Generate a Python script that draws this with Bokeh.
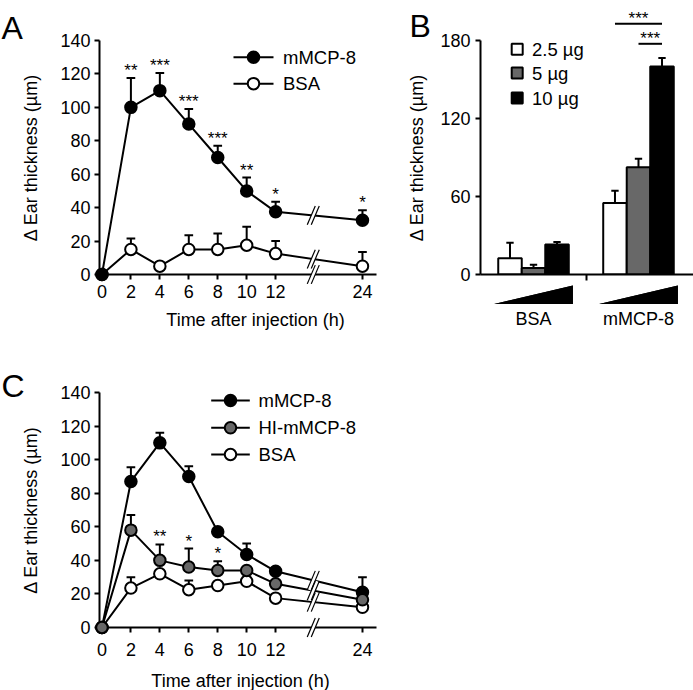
from bokeh.plotting import figure
from bokeh.layouts import column, row
from bokeh.models import FixedTicker
from bokeh.embed import file_html
from bokeh.resources import INLINE
from bokeh.core.properties import value

FONT = "Liberation Sans"
GRAY = "#686868"

# ---------------- data ----------------
times = [0, 2, 4, 6, 8, 10, 12, 24]
time_tick_labels = ["0", "2", "4", "6", "8", "10", "12", "24"]

# Panel A
a_mcp8 = [0, 100, 110, 90, 70, 50, 37.5, 32.5]
a_mcp8_err = [0, 117.5, 120.5, 99, 77, 58, 43.5, 38.5]
a_bsa = [0, 15, 5, 15, 15, 17.5, 12.5, 5]
a_bsa_err = [0, 21.5, 5, 23.5, 24.5, 28.5, 20, 13.5]
a_stars = ["", "**", "***", "***", "***", "**", "*", "*"]

# Panel B
groups = ["BSA", "mMCP-8"]
doses = ["2.5 µg", "5 µg", "10 µg"]
dose_colors = ["white", GRAY, "black"]
b_bsa = [12.5, 5, 23]
b_bsa_err = [24.5, 7.5, 25]
b_mcp8 = [55, 82.5, 160]
b_mcp8_err = [64.5, 89, 166.5]
b_sig_pairs = [(0, 2), (1, 2)]          # dose indices compared within mMCP-8
b_sig_labels = ["***", "***"]

# Panel C
c_mcp8 = [0, 87, 110, 90, 57, 43.5, 33.5, 21]
c_mcp8_err = [0, 95.5, 116, 96, 57, 50, 33.5, 30]
c_hi = [0, 58, 40, 36, 34, 34, 26, 16.5]
c_hi_err = [0, 67, 49.5, 47, 39.5, 34, 26, 16.5]
c_bsa = [0, 23.5, 32, 22.5, 25, 27.5, 17.5, 12]
c_bsa_err = [0, 30, 32, 28, 25, 27.5, 17.5, 12]
c_hi_stars = ["", "", "**", "*", "*", "", "", ""]


def tpos(t):
    # broken time axis: 0-12 h linear, 12-24 h compressed by half
    return t if t <= 12 else 12 + (t - 12) * 0.5


BREAK_X = 14.6
STAR_OFFSET = -7.5


class Frame:
    """maps page-pixel positions to data coordinates of a figure"""
    def __init__(self, p, ox, oy):
        self.left = ox + p.min_border_left
        self.bottom = oy + p.height - p.min_border_bottom
        fw = p.width - p.min_border_left - p.min_border_right
        fh = p.height - p.min_border_top - p.min_border_bottom
        self.x0, self.y0 = p.x_range.start, p.y_range.start
        self.sx = fw / (p.x_range.end - p.x_range.start)
        self.sy = fh / (p.y_range.end - p.y_range.start)

    def x(self, px):
        return self.x0 + (px - self.left) / self.sx

    def y(self, py):
        return self.y0 + (self.bottom - py) / self.sy


def style(p):
    p.grid.visible = False
    p.outline_line_color = None
    for ax in p.axis:
        ax.axis_line_width = 2
        ax.axis_line_color = "black"
        ax.major_tick_line_width = 2
        ax.major_tick_line_color = "black"
        ax.minor_tick_line_color = None
        ax.major_tick_in = 0
        ax.major_tick_out = 5
        ax.major_label_text_font = FONT
        ax.major_label_text_font_size = "18px"
        ax.major_label_text_color = "black"
        ax.axis_label_text_font = FONT
        ax.axis_label_text_font_size = "18px"
        ax.axis_label_text_font_style = "normal"
        ax.axis_label_text_color = "black"


def add_text(p, x, y, text, size="18px", align="left", baseline="middle", y_offset=0):
    r = p.text(x=x, y=y, text=text, text_font=value(FONT), text_font_size=size,
               text_align=align, text_baseline=baseline, text_color="black",
               y_offset=y_offset)
    r.level = "overlay"
    return r


def time_figure(height, top, bottom, label_standoff):
    p = figure(width=380, height=height, x_range=(-0.17, 18.97), y_range=(0, 140),
               min_border_left=99, min_border_right=4, min_border_top=top,
               min_border_bottom=bottom, output_backend="svg", toolbar_location=None)
    style(p)
    p.xaxis.ticker = FixedTicker(ticks=[tpos(t) for t in times])
    p.xaxis.major_label_overrides = {int(tpos(t)): lab for t, lab in zip(times, time_tick_labels)}
    p.xaxis.major_label_standoff = label_standoff
    p.yaxis.ticker = FixedTicker(ticks=list(range(0, 141, 20)))
    p.yaxis.major_label_standoff = 4
    p.yaxis.axis_label = "Δ Ear thickness (µm)"
    p.yaxis.axis_label_standoff = 16
    return p


def draw_series(p, ys, errs, fill, cap=0.3):
    xs = [tpos(t) for t in times]
    p.line(xs, ys, line_color="black", line_width=2)
    p.segment(xs, ys, xs, errs, line_color="black", line_width=2)
    p.segment([x - cap for x in xs], errs, [x + cap for x in xs], errs,
              line_color="black", line_width=2)
    r = p.scatter(xs, ys, size=11.5, marker="circle", fill_color=fill,
                  line_color="black", line_width=2)
    r.level = "overlay"


def break_y(ys):
    x12, x24 = tpos(12), tpos(24)
    return ys[6] + (ys[7] - ys[6]) * (BREAK_X - x12) / (x24 - x12)


def break_marks(p, fr, yvals, half_h=9.5, half_w=4, gap=2):
    dx, dy, g = half_w / fr.sx, half_h / fr.sy, gap / fr.sx
    xb = [BREAK_X] * len(yvals)
    for off, col, lw in [(0, "white", 3.6), (-g, "black", 1.2), (g, "black", 1.2)]:
        r = p.segment([x - dx + off for x in xb], [y - dy for y in yvals],
                      [x + dx + off for x in xb], [y + dy for y in yvals],
                      line_color=col, line_width=lw)
        r.level = "overlay"


def legend_rows(p, fr, x0, x1, xm, xt, ys, labels, fills):
    for y, lab, fill in zip(ys, labels, fills):
        r = p.line([fr.x(x0), fr.x(x1)], [fr.y(y), fr.y(y)], line_color="black", line_width=2)
        r.level = "overlay"
        r = p.scatter([fr.x(xm)], [fr.y(y)], size=11.5, fill_color=fill,
                      line_color="black", line_width=2)
        r.level = "overlay"
        add_text(p, [fr.x(xt)], [fr.y(y)], [lab], size="18.5px")


# ---------------- Panel A ----------------
pA = time_figure(height=335, top=38, bottom=60, label_standoff=5)
fa = Frame(pA, 0, 0)
draw_series(pA, a_bsa, a_bsa_err, "white")
draw_series(pA, a_mcp8, a_mcp8_err, "black")
break_marks(pA, fa, [0, break_y(a_bsa), break_y(a_mcp8)])
add_text(pA, [tpos(t) for t in times], a_mcp8_err, a_stars, size="17px",
         align="center", baseline="alphabetic", y_offset=STAR_OFFSET)
legend_rows(pA, fa, 233, 273, 253, 282.5, [55, 81.7], ["mMCP-8", "BSA"], ["black", "white"])
add_text(pA, [fa.x(255)], [fa.y(321)], ["Time after injection (h)"], align="center")
add_text(pA, [fa.x(1)], [fa.y(25)], ["A"], size="32px", baseline="alphabetic")

# ---------------- Panel B ----------------
BW = 0.224
pB = figure(width=313, height=335, x_range=(-0.505, 1.524), y_range=(0, 180),
            min_border_left=100, min_border_right=0, min_border_top=40, min_border_bottom=61,
            output_backend="svg", toolbar_location=None)
style(pB)
fb = Frame(pB, 380, 0)
pB.yaxis.ticker = FixedTicker(ticks=[0, 60, 120, 180])
pB.yaxis.major_label_standoff = 5
pB.yaxis.axis_label = "Δ Ear thickness (µm)"
pB.yaxis.axis_label_standoff = 10
pB.xaxis.ticker = FixedTicker(ticks=list(range(len(groups))), minor_ticks=[0.5])
pB.xaxis.major_label_overrides = {i: g for i, g in enumerate(groups)}
pB.xaxis.major_tick_out = 0
pB.xaxis.minor_tick_out = 6
pB.xaxis.minor_tick_in = 0
pB.xaxis.minor_tick_line_color = "black"
pB.xaxis.minor_tick_line_width = 2
pB.xaxis.major_label_standoff = 28

vals = [b_bsa, b_mcp8]
errs = [b_bsa_err, b_mcp8_err]
for i, dose in enumerate(doses):
    xs = [g + (i - 1) * BW for g in range(len(groups))]
    tops = [v[i] for v in vals]
    tops_err = [e[i] for e in errs]
    pB.segment(xs, tops, xs, tops_err, line_color="black", line_width=2)
    pB.segment([x - 0.035 for x in xs], tops_err, [x + 0.035 for x in xs], tops_err,
               line_color="black", line_width=2)
    pB.vbar(x=xs, top=tops, width=BW, bottom=0, fill_color=dose_colors[i],
            line_color="black", line_width=2)

# dose wedges under each group (drawn below the axis)
wx = 0.375
w_bot, w_top = fb.y(303.5), fb.y(285)
for g in range(len(groups)):
    r = pB.varea(x=[g - wx, g + wx], y1=[w_bot, w_bot], y2=[w_bot, w_top],
                 fill_color="black")
    r.level = "overlay"
r = pB.patches(xs=[[g - wx, g + wx, g + wx, g + wx] for g in range(len(groups))],
               ys=[[w_bot, w_bot, 0.5, w_top] for g in range(len(groups))],
               fill_color="black", line_color=None)
r.level = "overlay"

# significance brackets (mMCP-8 group)
sig_y = [fb.y(23.3), fb.y(43.3)]
for (a, b), lab, y in zip(b_sig_pairs, b_sig_labels, sig_y):
    xa, xb_ = 1 + (a - 1) * BW, 1 + (b - 1) * BW
    r = pB.segment([xa], [y], [xb_], [y], line_color="black", line_width=2)
    r.level = "overlay"
    add_text(pB, [(xa + xb_) / 2], [y], [lab], size="17px", align="center",
             baseline="alphabetic", y_offset=-5)

# legend
for y, lab, col in zip([48.8, 72.5, 97.5], doses, dose_colors):
    r = pB.scatter([fb.x(516.7)], [fb.y(y)], marker="square", size=11, fill_color=col,
                   line_color="black", line_width=2)
    r.level = "overlay"
    add_text(pB, [fb.x(531.5)], [fb.y(y)], [lab], size="18.5px")
add_text(pB, [fb.x(409)], [fb.y(25)], ["B"], size="32px", baseline="alphabetic")

# ---------------- Panel C ----------------
pC = time_figure(height=355, top=57, bottom=63, label_standoff=10)
fc = Frame(pC, 0, 335)
draw_series(pC, c_mcp8, c_mcp8_err, "black")
draw_series(pC, c_bsa, c_bsa_err, "white")
draw_series(pC, c_hi, c_hi_err, GRAY)
break_marks(pC, fc, [0, break_y(c_bsa), break_y(c_hi), break_y(c_mcp8)])
add_text(pC, [tpos(t) for t in times], c_hi_err, c_hi_stars, size="17px",
         align="center", baseline="alphabetic", y_offset=STAR_OFFSET)
legend_rows(pC, fc, 210.7, 249.3, 230, 258, [400, 427.3, 454],
            ["mMCP-8", "HI-mMCP-8", "BSA"], ["black", GRAY, "white"])
add_text(pC, [fc.x(240)], [fc.y(680)], ["Time after injection (h)"], align="center")
add_text(pC, [fc.x(1)], [fc.y(385)], ["C"], size="32px", baseline="alphabetic")

layout = column(row(pA, pB), pC)
open("out.html", "w").write(file_html(layout, INLINE))
